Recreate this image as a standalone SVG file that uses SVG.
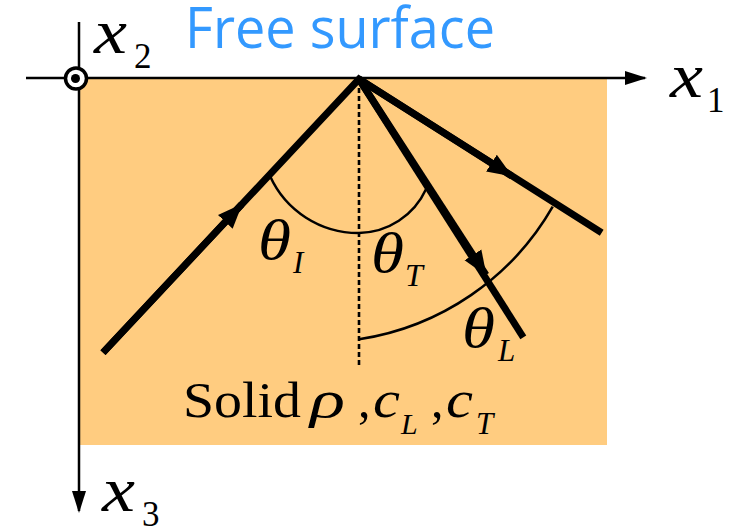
<svg xmlns="http://www.w3.org/2000/svg" width="744" height="528" viewBox="0 0 744 528">
  <style>
    .axis { stroke: #000; stroke-width: 2.5; fill: none; }
    .ray { stroke: #000; stroke-width: 7; fill: none; stroke-linecap: butt; stroke-linejoin: miter; }
    .arc { stroke: #000; stroke-width: 2.5; fill: none; }
    .dash { stroke: #000; stroke-width: 2.6; fill: none; stroke-dasharray: 5 3; }
    .math { font-family: "Liberation Serif", "Times New Roman", serif; font-style: italic; fill: #000; }
    .rm { font-family: "Liberation Serif", "Times New Roman", serif; fill: #000; }
    .title { font-family: "Open Sans", "Noto Sans", sans-serif; fill: #3399FF; }
  </style>
  <defs>
    <marker id="axisHead" markerUnits="userSpaceOnUse" markerWidth="22" markerHeight="16" viewBox="0 0 22 16" refX="20" refY="8" orient="auto">
      <path d="M0,1 L22,8 L0,15 Z" fill="#000"/>
    </marker>
    <marker id="rayHead" markerUnits="userSpaceOnUse" markerWidth="25" markerHeight="22" viewBox="0 0 25 22" refX="24" refY="11" orient="auto">
      <path d="M0,1 L25,11 L0,21 Z" fill="#000"/>
    </marker>
  </defs>

  <g id="solid">
    <rect x="79" y="79" width="528" height="366" fill="#FFCC80"/>
  </g>

  <g id="title">
    <text class="title" x="185" y="48" font-size="56" textLength="310" lengthAdjust="spacingAndGlyphs">Free surface</text>
  </g>

  <g id="axes">
    <path id="axis-x1" class="axis" d="M26,78 L645,78" marker-end="url(#axisHead)"/>
    <path id="axis-x3" class="axis" d="M79,22 L79,511" marker-end="url(#axisHead)"/>
    <g id="axis-x2">
      <circle cx="76" cy="78.5" r="10.5" fill="#fff" stroke="#000" stroke-width="3.5"/>
      <circle cx="75.5" cy="78.5" r="4.5" fill="#000"/>
    </g>
  </g>

  <g id="axis-labels">
    <g id="label-x2"><text class="math" x="94" y="53" font-size="63" textLength="33" lengthAdjust="spacingAndGlyphs">x</text><text class="rm" x="134" y="68" font-size="35">2</text></g>
    <g id="label-x1"><text class="math" x="670" y="97" font-size="63" textLength="33" lengthAdjust="spacingAndGlyphs">x</text><text class="rm" x="707" y="112" font-size="35">1</text></g>
    <g id="label-x3"><text class="math" x="102" y="511" font-size="63" textLength="33" lengthAdjust="spacingAndGlyphs">x</text><text class="rm" x="142" y="526" font-size="35">3</text></g>
  </g>

  <g id="normal">
    <path class="dash" d="M359,80 L359,368"/>
  </g>

  <g id="connectors">
    <path id="ray-incident-reflected" class="ray" d="M103,352.7 L359,79 L601.7,232.7"/>
    <path id="ray-steep" class="ray" d="M359,79 L523.3,337.3"/>
    <path class="ray" d="M103,352.7 L241.7,204.4" marker-end="url(#rayHead)"/>
    <path class="ray" d="M359,79 L511.7,176.0" marker-end="url(#rayHead)"/>
    <path class="ray" d="M359,79 L486,275" marker-end="url(#rayHead)"/>
  </g>

  <g id="angles">
    <path id="arc-small" class="arc" d="M270,176 A97,97 0 0 0 359,233 A75,75 0 0 0 426,189.3"/>
    <path id="arc-large" class="arc" d="M359,339.3 A270,270 0 0 0 552.7,206.7"/>
  </g>

  <g id="angle-labels">
    <g id="label-thetaI"><text class="math" x="258" y="259" font-size="56" textLength="33" lengthAdjust="spacingAndGlyphs">θ</text><text class="math" x="293" y="273" font-size="31">I</text></g>
    <g id="label-thetaT"><text class="math" x="371" y="272" font-size="56" textLength="33" lengthAdjust="spacingAndGlyphs">θ</text><text class="math" x="405" y="286" font-size="32">T</text></g>
    <g id="label-thetaL"><text class="math" x="462" y="347" font-size="56" textLength="33" lengthAdjust="spacingAndGlyphs">θ</text><text class="math" x="498" y="361" font-size="31">L</text></g>
  </g>

  <g id="solid-label">
    <text class="rm" x="183" y="417" font-size="50" textLength="118" lengthAdjust="spacingAndGlyphs">Solid</text>
    <text class="math" x="310" y="417" font-size="52" textLength="35" lengthAdjust="spacingAndGlyphs">ρ</text>
    <text class="rm" x="358" y="417" font-size="50">,</text>
    <text class="math" x="373" y="417" font-size="52" textLength="27" lengthAdjust="spacingAndGlyphs">c</text>
    <text class="math" x="401" y="434" font-size="30">L</text>
    <text class="rm" x="431" y="417" font-size="50">,</text>
    <text class="math" x="446" y="417" font-size="52" textLength="27" lengthAdjust="spacingAndGlyphs">c</text>
    <text class="math" x="476" y="434" font-size="31">T</text>
  </g>
</svg>
